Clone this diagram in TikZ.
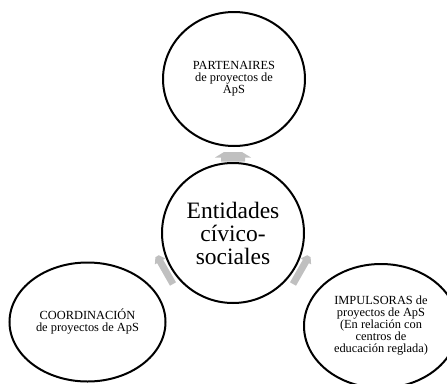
\documentclass[tikz,border=0pt]{standalone}
\usepackage{fontspec}
\setmainfont{Liberation Serif}
\usetikzlibrary{shapes.geometric}
\definecolor{arrowgrey}{RGB}{192,192,192}
\tikzset{
  circ/.style={ellipse, draw=black, line width=2pt, inner sep=0pt, align=center, font=\fontsize{12.4}{12}\selectfont},
  garrow/.style={fill=arrowgrey, draw=none}
}
\begin{document}
\begin{tikzpicture}[x=1pt,y=-1pt]
\useasboundingbox (0,0) rectangle (447,383);
% arrows
\fill[garrow] (224,152) -- (242,152) -- (251,157.5) -- (245,157.5) -- (245,161.5) -- (221,161.5) -- (221,157.5) -- (215,157.5) -- cycle;
\fill[garrow] (176.0,282.3) -- (163.1,259.7) -- (165.3,258.4) -- (158.8,255.2) -- (155.4,257.2) -- (154.9,264.4) -- (157.1,263.1) -- (170.0,285.7) -- cycle;
\fill[garrow] (290.0,282.3) -- (302.9,259.7) -- (300.7,258.4) -- (307.2,255.2) -- (310.6,257.2) -- (311.1,264.4) -- (308.9,263.1) -- (296.0,285.7) -- cycle;
% circles
\node[circ, minimum width=142pt, minimum height=134pt] (top) at (234,79) {PARTENAIRES\\de proyectos de\\ApS};
\node[circ, minimum width=142pt, minimum height=140pt, font=\fontsize{23.5}{23}\selectfont] (center) at (233,233) {Entidades\\cívico-\\sociales};
\node[circ, minimum width=156pt, minimum height=119pt] (left) at (87.5,322) {COORDINACIÓN\\de proyectos de ApS};
\node[circ, minimum width=154pt, minimum height=124pt] (right) at (381,326) {IMPULSORAS de\\proyectos de ApS\\(En relación con\\centros de\\educación reglada)};
\end{tikzpicture}
\end{document}
